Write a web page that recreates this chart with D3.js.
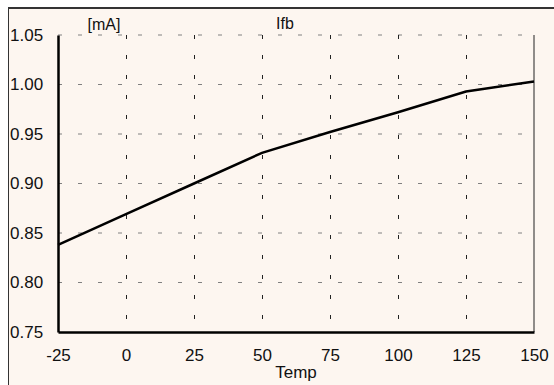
<!DOCTYPE html>
<html>
<head>
<meta charset="utf-8">
<script src="https://cdn.jsdelivr.net/npm/d3@7"></script>
<style>
  body { margin: 0; background: #fff; }
  text { font-family: "Liberation Sans", Arial, sans-serif; fill: #111; }
</style>
</head>
<body>
<svg id="chart"></svg>
<script>
// Data
const temps = [-25, 0, 25, 50, 75, 100, 125, 150];
const ifb = [0.838, 0.869, 0.900, 0.931, 0.952, 0.972, 0.993, 1.003];
const xTicks = [-25, 0, 25, 50, 75, 100, 125, 150];
const yTicks = [0.75, 0.80, 0.85, 0.90, 0.95, 1.00, 1.05];

const W = 554, H = 385;
const margin = {top: 35, right: 20, bottom: 53, left: 58};

const svg = d3.select("#chart").attr("width", W).attr("height", H);

// cream panel with frame on top/left
svg.append("rect").attr("x", 8).attr("y", 8).attr("width", W - 8).attr("height", H - 8)
  .attr("fill", "#fdf6f0");
svg.append("line").attr("x1", 8).attr("x2", W).attr("y1", 8).attr("y2", 8)
  .attr("stroke", "#333").attr("stroke-width", 2);
svg.append("line").attr("x1", 8.5).attr("x2", 8.5).attr("y1", 8).attr("y2", H)
  .attr("stroke", "#333").attr("stroke-width", 1);

const x = d3.scaleLinear().domain([-25, 150]).range([margin.left, W - margin.right]);
const y = d3.scaleLinear().domain([0.75, 1.05]).range([H - margin.bottom, margin.top]);

// horizontal grid (gray dashes)
svg.append("g")
  .selectAll("line")
  .data(yTicks.slice(1))
  .join("line")
    .attr("x1", x(-25)).attr("x2", x(150))
    .attr("y1", d => y(d)).attr("y2", d => y(d))
    .attr("stroke", "#808080").attr("stroke-width", 1)
    .attr("stroke-dasharray", "4,16");

// vertical grid (dark dashes), drawn top-down
svg.append("g")
  .selectAll("line")
  .data(xTicks.slice(1, -1))
  .join("line")
    .attr("x1", d => Math.round(x(d)) + 0.5).attr("x2", d => Math.round(x(d)) + 0.5)
    .attr("y1", y(1.05)).attr("y2", y(0.75))
    .attr("stroke", "#222").attr("stroke-width", 1)
    .attr("stroke-dasharray", "4,16");

// right border
svg.append("line")
  .attr("x1", x(150)).attr("x2", x(150)).attr("y1", y(1.05)).attr("y2", y(0.75))
  .attr("stroke", "#222").attr("stroke-width", 1);

// axes
const xAxis = svg.append("g")
  .attr("transform", `translate(0,${y(0.75)})`)
  .call(d3.axisBottom(x).tickValues(xTicks).tickFormat(d => String(d)).tickSize(0).tickPadding(17));
xAxis.select(".domain").attr("stroke", "#000").attr("stroke-width", 2.5);
xAxis.selectAll("text").style("font-size", "17px").attr("fill", "#111");

const yAxis = svg.append("g")
  .attr("transform", `translate(${x(-25)},0)`)
  .call(d3.axisLeft(y).tickValues(yTicks).tickFormat(d3.format(".2f")).tickSize(0));
yAxis.select(".domain").attr("stroke", "#000").attr("stroke-width", 2.5);
yAxis.selectAll("text").style("font-size", "17px").attr("fill", "#111")
  .attr("text-anchor", "start").attr("x", 10 - x(-25));

// data line
const line = d3.line().x((d, i) => x(temps[i])).y(d => y(d));
svg.append("path")
  .datum(ifb)
  .attr("fill", "none")
  .attr("stroke", "#000")
  .attr("stroke-width", 2.5)
  .attr("d", line);

// labels
svg.append("text").attr("x", 104).attr("y", 30).attr("text-anchor", "middle")
  .style("font-size", "16px").text("[mA]");
svg.append("text").attr("x", 285).attr("y", 29).attr("text-anchor", "middle")
  .style("font-size", "16px").text("Ifb");
svg.append("text").attr("x", 296).attr("y", 378).attr("text-anchor", "middle")
  .style("font-size", "17px").text("Temp");
</script>
</body>
</html>
